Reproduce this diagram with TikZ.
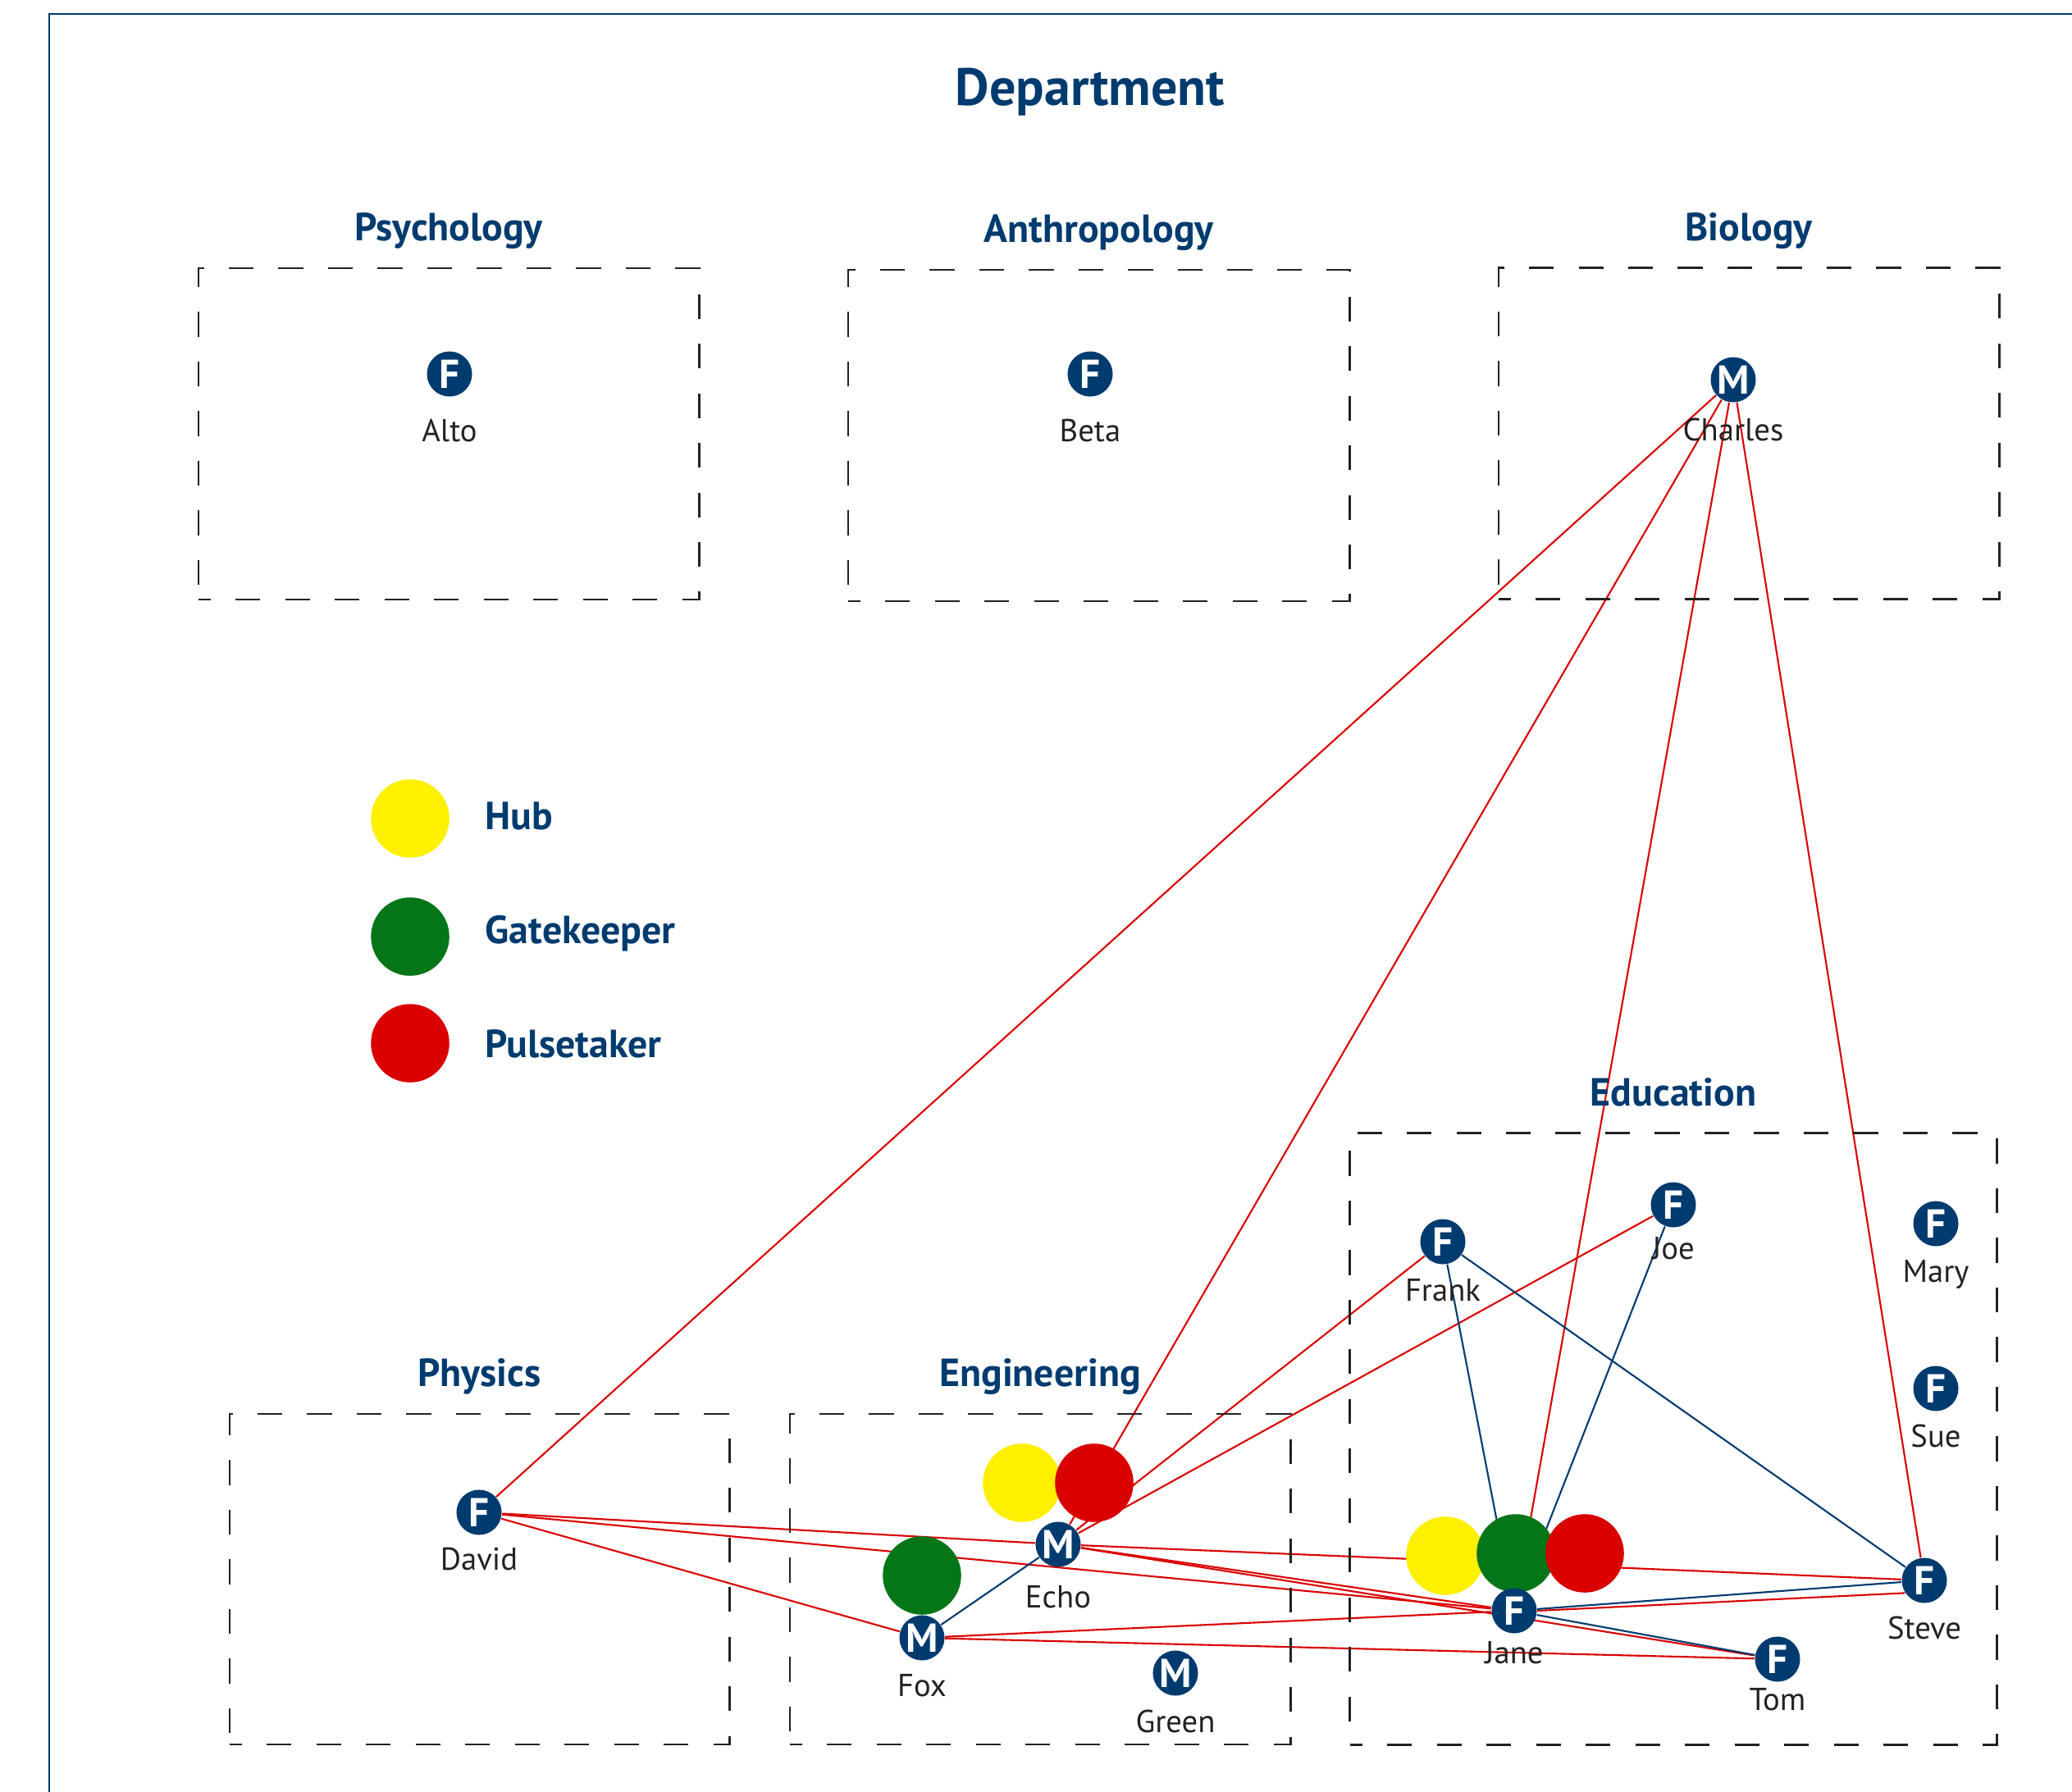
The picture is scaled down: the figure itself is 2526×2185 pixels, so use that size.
\documentclass[tikz,border=0pt]{standalone}
\usepackage{fontspec}
\setmainfont{PT Sans}
\usetikzlibrary{positioning}
\pgfdeclarelayer{background}
\pgfsetlayers{background,main}
\definecolor{navy}{RGB}{0,59,111}
\definecolor{pulsered}{RGB}{218,0,0}
\definecolor{hubyellow}{RGB}{255,240,0}
\definecolor{gategreen}{RGB}{4,118,24}
\definecolor{inkgray}{RGB}{34,34,34}
\tikzstyle{person}=[circle,fill=navy,text=white,font=\fontsize{14}{14}\selectfont\bfseries,minimum size=0.55cm,inner sep=0pt]
\tikzstyle{namelbl}=[text=inkgray,font=\fontsize{11}{12}\selectfont,inner sep=0pt]
\tikzstyle{role}=[circle,minimum size=0.955cm,inner sep=0pt]
\tikzstyle{deptbox}=[draw=inkgray,line width=0.75pt,dash pattern=on 8.6pt off 8.6pt,dash phase=4.3pt,inner sep=0pt]
\tikzstyle{depttitle}=[text=navy,font=\fontsize{13.6}{15}\selectfont\bfseries,inner sep=0pt]
\tikzstyle{tie}=[draw=pulsered,line width=0.6pt]
\tikzstyle{link}=[draw=navy,line width=0.6pt]

\begin{document}
\begin{tikzpicture}[x=0.01cm,y=-0.01cm]
    \useasboundingbox (0,0) rectangle (2526,2185);
    % outer frame
    \draw[navy,line width=0.7pt] (60,2185) -- (60,17) -- (2526,17);
    \node[text=navy,font=\fontsize{18.2}{20}\selectfont\bfseries,inner sep=0pt,anchor=base] (title) at (1329,129) {Department};

    % the department boxes with their titles
    \foreach \cx/\cy/\w/\h/\dept/\title in {547/529/6.10/4.04/Psy/Psychology, 1339.5/531/6.11/4.04/Ant/Anthropology, 2132/528.5/6.10/4.04/Bio/Biology, 584.5/1925.5/6.09/4.03/Phy/Physics, 1268/1925.5/6.10/4.03/Eng/Engineering, 2040/1754.5/7.88/7.45/Edu/Education}{
        \node[deptbox,minimum width=\w cm,minimum height=\h cm] (box\dept) at (\cx,\cy) {};
        \node[depttitle,above=0.32cm of box\dept.north,anchor=base] (ttl\dept) {\title};
    }

    % legend
    \node[role,fill=hubyellow] (keyHub) at (500,998) {};
    \node[role,fill=gategreen] (keyGate) at (500,1142) {};
    \node[role,fill=pulsered] (keyPulse) at (500,1272) {};
    \node[depttitle,anchor=base west] (txtHub) at (591,1011) {Hub};
    \node[depttitle,anchor=base west] (txtGate) at (591,1150) {Gatekeeper};
    \node[depttitle,anchor=base west] (txtPulse) at (591,1289) {Pulsetaker};

    % roles held by people
    \node[role,fill=hubyellow] (echoHub) at (1246,1808) {};
    \node[role,fill=pulsered] (echoPulse) at (1334,1808) {};
    \node[role,fill=gategreen] (foxGate) at (1124,1921) {};
    \node[role,fill=hubyellow] (janeHub) at (1762,1897) {};
    \node[role,fill=gategreen] (janeGate) at (1848,1894) {};
    \node[role,fill=pulsered] (janePulse) at (1932,1894) {};

    % the people
    \foreach \pos/\who/\sex/\gap in {(548,456)/Alto/F/0.26, (1329,456)/Beta/F/0.26, (2113,463)/Charles/M/0.18,
        (584,1844)/David/F/0.14, (1290,1883)/Echo/M/0.215, (1124,1997)/Fox/M/0.15, (1433,2040)/Green/M/0.16,
        (1759,1514)/Frank/F/0.16, (2040,1469)/Joe/F/0.10, (2360,1492)/Mary/F/0.15, (2360,1693)/Sue/F/0.15,
        (2346,1927)/Steve/F/0.15, (1846,1964)/Jane/F/0.08, (2167,2023)/Tom/F/0.06}
        \node[person,label={[namelbl,label distance=\gap cm]below:\who}] (\who) at \pos {\sex};

    % ties between people
    \begin{pgfonlayer}{background}
    \foreach \source/\dest in {Charles/David, Charles/Echo, Charles/Jane, Charles/Steve, Frank/Echo, Joe/Echo, David/Echo, David/Jane, David/Fox, Echo/Steve, Echo/Jane, Echo/Tom, Fox/Jane, Fox/Tom}
        \path[tie] (\source) -- (\dest);
    \path[tie] (Jane.east) -- (Steve.213);
    \foreach \source/\dest in {Echo/Fox, Frank/Jane, Frank/Steve, Joe/Jane, Jane/Steve, Jane/Tom}
        \path[link] (\source) -- (\dest);
    \end{pgfonlayer}
\end{tikzpicture}
\end{document}
